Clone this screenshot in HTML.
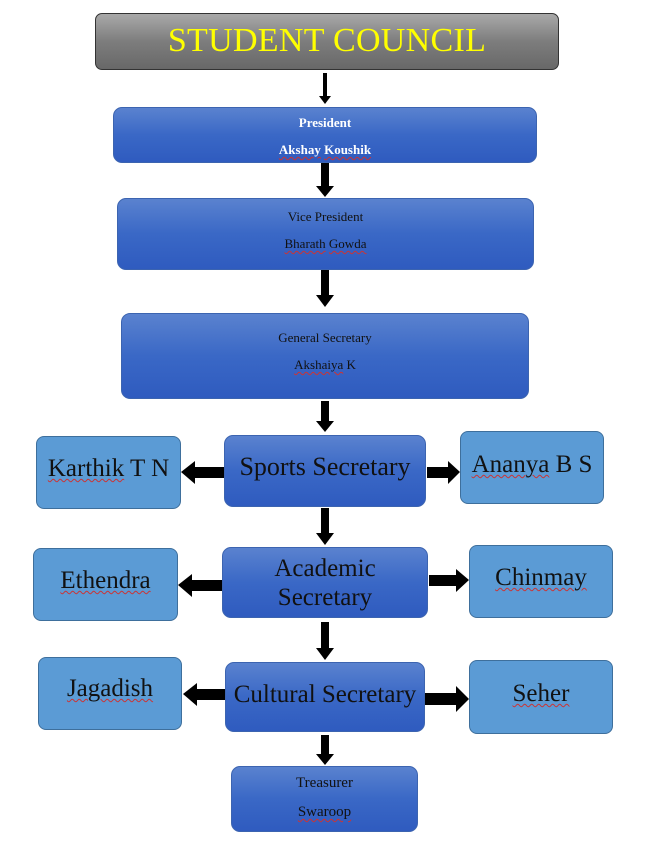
<!DOCTYPE html>
<html><head><style>
body{margin:0;width:651px;height:842px;background:#fff;position:relative;overflow:hidden;font-family:"Liberation Serif",serif}
.b{position:absolute;box-sizing:border-box;border-radius:9px;background:linear-gradient(#5a82cf,#3a68c6 50%,#2f5bbf);border:1px solid #3c64b0;text-align:center;color:#111}
.l{position:absolute;box-sizing:border-box;border-radius:8px;background:#5b9bd5;border:1px solid #3e6f9c;text-align:center;color:#111;font-size:25px}
.t{position:absolute;left:0;right:0;text-align:center;line-height:1;white-space:nowrap}
u{text-decoration:underline wavy #c33;text-decoration-thickness:1px;text-underline-offset:2px}
</style></head><body>
<div style="position:absolute;left:95px;top:13px;width:464px;height:57px;box-sizing:border-box;border:1px solid #333;border-radius:7px;background:linear-gradient(#a9a9a9,#7d7d7d 50%,#686868);"><div class="t" style="top:10px;color:#ffff00;font-size:34px;letter-spacing:0.3px">STUDENT COUNCIL</div></div>

<div class="b" style="left:113px;top:107px;width:424px;height:56px;color:#fff;font-weight:bold;font-size:13px"><div class="t" style="top:8px">President</div><div class="t" style="top:35px"><u>Akshay</u> <u>Koushik</u></div></div>
<div class="b" style="left:117px;top:198px;width:417px;height:72px;font-size:13px"><div class="t" style="top:11px">Vice President</div><div class="t" style="top:38px"><u>Bharath</u> <u>Gowda</u></div></div>
<div class="b" style="left:121px;top:313px;width:408px;height:86px;font-size:13px"><div class="t" style="top:17px">General Secretary</div><div class="t" style="top:44px"><u>Akshaiya</u> K</div></div>

<div class="b" style="left:224px;top:435px;width:202px;height:72px;font-size:26px"><div class="t" style="top:18px">Sports Secretary</div></div>
<div class="l" style="left:36px;top:436px;width:145px;height:73px"><div class="t" style="top:19px"><u>Karthik</u> T N</div></div>
<div class="l" style="left:460px;top:431px;width:144px;height:73px"><div class="t" style="top:20px"><u>Ananya</u> B S</div></div>

<div class="b" style="left:222px;top:547px;width:206px;height:71px;font-size:25px"><div class="t" style="top:8px">Academic</div><div class="t" style="top:37px">Secretary</div></div>
<div class="l" style="left:33px;top:548px;width:145px;height:73px"><div class="t" style="top:19px"><u>Ethendra</u></div></div>
<div class="l" style="left:469px;top:545px;width:144px;height:73px"><div class="t" style="top:19px"><u>Chinmay</u></div></div>

<div class="b" style="left:225px;top:662px;width:200px;height:70px;font-size:25px"><div class="t" style="top:19px">Cultural Secretary</div></div>
<div class="l" style="left:38px;top:657px;width:144px;height:73px"><div class="t" style="top:18px"><u>Jagadish</u></div></div>
<div class="l" style="left:469px;top:660px;width:144px;height:74px"><div class="t" style="top:20px"><u>Seher</u></div></div>

<div class="b" style="left:231px;top:766px;width:187px;height:66px;font-size:15px"><div class="t" style="top:9px">Treasurer</div><div class="t" style="top:38px"><u>Swaroop</u></div></div>

<svg width="651" height="842" style="position:absolute;left:0;top:0" fill="#000">
<rect x="323" y="73" width="4" height="24"/><polygon points="319,96 331,96 325,104"/>
<rect x="321" y="163" width="8" height="24"/><polygon points="316,186 334,186 325,197"/>
<rect x="321" y="270" width="8" height="26"/><polygon points="316,295 334,295 325,307"/>
<rect x="321" y="401" width="8" height="21"/><polygon points="316,421 334,421 325,432"/>
<rect x="321" y="508" width="8" height="26"/><polygon points="316,533 334,533 325,545"/>
<rect x="321" y="622" width="8" height="27"/><polygon points="316,648 334,648 325,660"/>
<rect x="321" y="735" width="8" height="20"/><polygon points="316,754 334,754 325,765"/>
<rect x="194" y="467" width="30" height="11"/><polygon points="195,461 195,484 181,472"/>
<rect x="427" y="467" width="22" height="11"/><polygon points="448,461 448,484 460,472"/>
<rect x="191" y="580" width="31" height="11"/><polygon points="192,574 192,597 178,585"/>
<rect x="429" y="575" width="28" height="11"/><polygon points="456,569 456,592 469,580"/>
<rect x="196" y="689" width="29" height="11"/><polygon points="197,683 197,706 183,694"/>
<rect x="425" y="693" width="32" height="12"/><polygon points="456,686 456,712 469,699"/>
</svg>
</body></html>
